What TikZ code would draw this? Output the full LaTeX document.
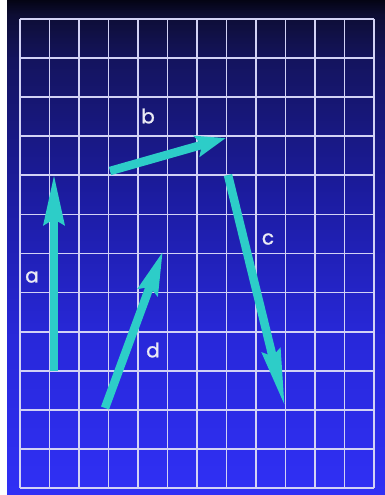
\documentclass[tikz,border=0pt]{standalone}
\usepackage{fontspec}
\setmainfont{Poppins}
\newfontfamily\labfont{Poppins}[FakeBold=1.2]
\usetikzlibrary{arrows.meta}
\definecolor{arrowc}{RGB}{45,205,200}
\definecolor{gridc}{RGB}{210,210,245}
\definecolor{labelc}{RGB}{235,235,245}
\definecolor{bgtop}{RGB}{4,4,20}
\definecolor{bgtopb}{RGB}{13,13,52}
\definecolor{bgmidA}{RGB}{20,20,94}
\definecolor{bgmidB}{RGB}{28,28,162}
\definecolor{bgmidC}{RGB}{40,40,218}
\definecolor{bgbot}{RGB}{48,48,245}
\pgfdeclareverticalshading{bgshade}{100bp}{color(0bp)=(bgbot); color(25bp)=(bgbot); color(40.7bp)=(bgmidC); color(54.8bp)=(bgmidB); color(69bp)=(bgmidA); color(73.5bp)=(bgtopb); color(75bp)=(bgtop); color(100bp)=(bgtop)}
\tikzset{
  gridline/.style={draw=gridc, line width=1.7pt},
  vecarrow/.style={draw=arrowc, line width=8.5pt, line cap=butt},
  veclabel/.style={text=labelc, font=\labfont\fontsize{20}{22}\selectfont, inner sep=0pt}
}
\begin{document}
\begin{tikzpicture}[x=1pt,y=-1pt]
  % page and background
  \fill[white] (0,0) rectangle (385,495);
  \useasboundingbox (0,0) rectangle (385,495);
  \shade[shading=bgshade] (7,0) rectangle (385,495);
  % grid
  \foreach \i in {0,...,12} {
    \draw[gridline] ({20+29.5*\i},19) -- ({20+29.5*\i},488);
    \draw[gridline] (20,{19+39.083*\i}) -- (374,{19+39.083*\i});
  }
  % vector end points
  \coordinate (a0) at (54,371);
  \coordinate (a1) at (54,174);
  \coordinate (b0) at (110,171);
  \coordinate (b1) at (226,138);
  \coordinate (c0) at (228,175);
  \coordinate (c1) at (285,407);
  \coordinate (d0) at (105,408);
  \coordinate (d1) at (163,251);
  % vectors
  \draw[vecarrow, -{Stealth[length=50pt,width=20pt,inset=5pt]}] (a0) -- (a1);
  \draw[vecarrow, -{Stealth[length=30pt,width=21pt,inset=5pt]}] (b0) -- (b1);
  \draw[vecarrow, -{Stealth[length=57pt,width=18pt,inset=5pt]}] (c0) -- (c1);
  \draw[vecarrow, -{Stealth[length=43pt,width=20pt,inset=5pt]}] (d0) -- (d1);
  % labels
  \node[veclabel] (la) at (32,277) {a};
  \node[veclabel] (lb) at (148,116) {b};
  \node[veclabel] (lc) at (268,239) {c};
  \node[veclabel] (ld) at (153,350) {d};
\end{tikzpicture}
\end{document}
